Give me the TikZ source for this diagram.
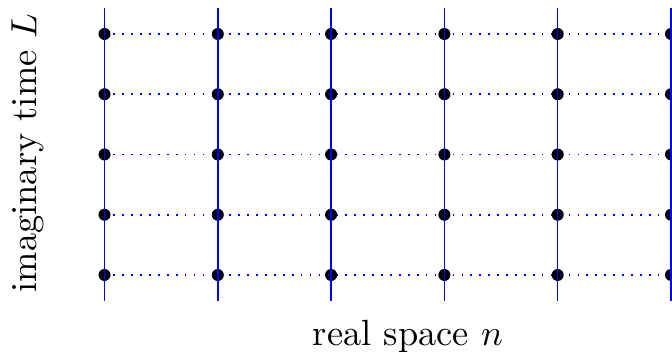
\documentclass[tikz,border=0pt]{standalone}
\usepackage{tikz}
\begin{document}
\begin{tikzpicture}[x=0.2745pt,y=-0.2745pt,
  site/.style={circle, fill=black, inner sep=0pt, minimum size=3.3pt},
  rung/.style={blue, line width=0.4pt},
  bond/.style={blue, dotted, line width=0.45pt}]
  \useasboundingbox (0,0) rectangle (672,352);
  \clip (0,0) rectangle (672,352);
  % lattice sites
  \foreach \i in {0,...,5}
    \foreach \j in {0,...,4}
      \node[site] (s-\i-\j) at ({104.5+113.3*\i},{34+60.25*\j}) {};
  % world lines in imaginary time
  \foreach \i in {0,...,5} {
    \coordinate (top-\i) at ({104.5+113.3*\i},8);
    \coordinate (bot-\i) at ({104.5+113.3*\i},301);
    \draw[rung] (top-\i) -- (bot-\i);
  }
  % couplings in real space
  \foreach \j in {0,...,4} {
    \coordinate (end-\j) at (690,{34+60.25*\j});
    \draw[bond] (s-0-\j.center) -- (s-5-\j.center) -- (end-\j);
  }
  \node[anchor=base] (xlabel) at (408,345.5) {real space $n$};
  \node[rotate=90, anchor=base] (ylabel) at (36.5,153) {imaginary time $L$};
\end{tikzpicture}
\end{document}
